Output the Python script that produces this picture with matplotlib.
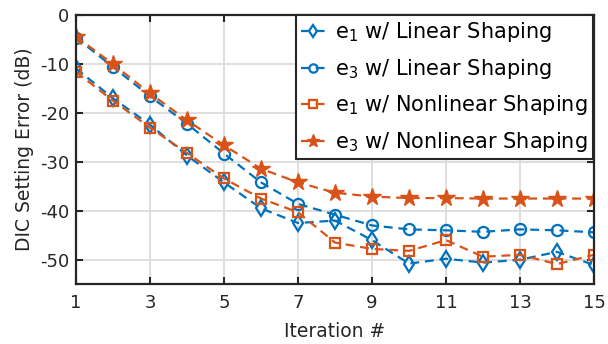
import matplotlib
matplotlib.use('Agg')
import matplotlib.pyplot as plt

iterations = list(range(1, 16))
e1_linear = [-10.9, -17.0, -22.4, -28.7, -34.2, -39.5, -42.5, -42.0, -46.0, -50.8, -49.8, -50.6, -50.0, -48.4, -51.1]
e3_linear = [-4.6, -10.6, -16.6, -22.2, -28.3, -34.2, -38.6, -40.8, -43.0, -43.8, -44.0, -44.3, -43.8, -44.0, -44.4]
e1_nonlinear = [-11.6, -17.5, -23.0, -28.2, -33.4, -37.5, -40.3, -46.5, -47.8, -48.2, -46.0, -49.4, -49.0, -50.9, -49.0]
e3_nonlinear = [-4.4, -10.0, -16.0, -21.5, -26.6, -31.4, -34.2, -36.3, -37.1, -37.4, -37.4, -37.5, -37.5, -37.5, -37.5]

blue = '#0072BD'
orange = '#D95319'
dark = '#262626'

plt.rcParams['font.family'] = ['DejaVu Sans']
plt.rcParams['axes.unicode_minus'] = False
fig = plt.figure(figsize=(6.08, 3.44), dpi=100)
ax = fig.add_axes([0.125, 0.174, 0.852, 0.782])

dash = (4, 2.6)
ax.plot(iterations, e1_linear, '--', dashes=dash, color=blue, lw=1.6, marker='d', ms=8,
        mfc='none', mew=1.6, label='e$_1$ w/ Linear Shaping')
ax.plot(iterations, e3_linear, '--', dashes=dash, color=blue, lw=1.6, marker='o', ms=8,
        mfc='none', mew=1.6, label='e$_3$ w/ Linear Shaping')
ax.plot(iterations, e1_nonlinear, '--', dashes=dash, color=orange, lw=1.6, marker='s', ms=7,
        mfc='none', mew=1.6, label='e$_1$ w/ Nonlinear Shaping')
ax.plot(iterations, e3_nonlinear, '--', dashes=dash, color=orange, lw=1.6, marker='*', ms=13,
        mfc=orange, mew=1.0, label='e$_3$ w/ Nonlinear Shaping')

ax.set_xlim(1, 15)
ax.set_ylim(-55, 0)
ax.set_xticks([1, 3, 5, 7, 9, 11, 13, 15])
ax.set_yticks([-50, -40, -30, -20, -10, 0])
ax.grid(True, color='#dcdcdc', lw=1.3)
ax.set_axisbelow(True)
ax.tick_params(direction='in', length=5, width=1.5, colors=dark, labelsize=13,
               top=True, right=True)
ax.tick_params(axis='x', pad=7)
ax.tick_params(axis='y', pad=5)
for s in ax.spines.values():
    s.set_color(dark)
    s.set_linewidth(1.6)
ax.set_xlabel('Iteration #', fontsize=13.5, color=dark, labelpad=7)
ax.set_ylabel('DIC Setting Error (dB)', fontsize=13.5, color=dark)

leg = ax.legend(loc='upper right', fontsize=15, handlelength=1.2, handletextpad=0.45,
                borderaxespad=0.0, borderpad=0.25, labelspacing=0.6, fancybox=False,
                framealpha=1, markerscale=0.75, bbox_to_anchor=(0.998, 1.0))
leg.get_frame().set_edgecolor(dark)
leg.get_frame().set_linewidth(1.5)

fig.savefig('out.png', dpi=100)
